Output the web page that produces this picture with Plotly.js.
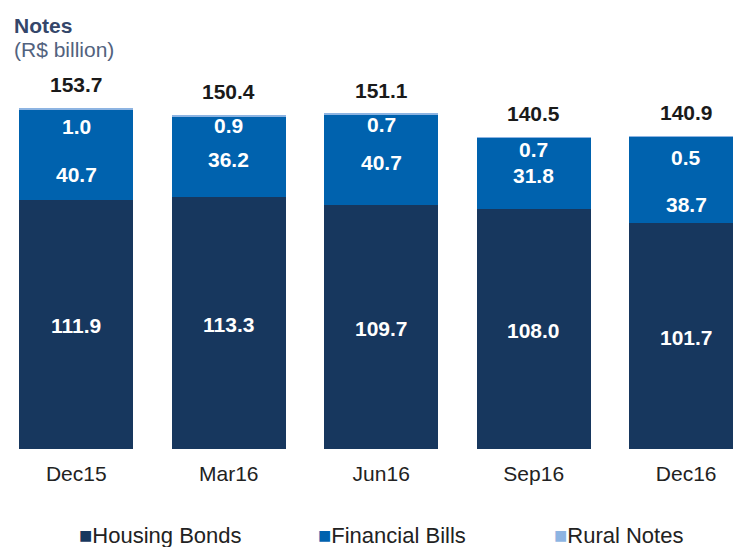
<!DOCTYPE html>
<html>
<head>
<meta charset="utf-8">
<script src="https://cdn.plot.ly/plotly-3.0.1.min.js"></script>
<style>
html,body{margin:0;padding:0;background:#fff;}
#chart{width:733px;height:547px;}
</style>
</head>
<body>
<div id="chart"></div>
<script>
// ---- data ----
var categories = ["Dec15", "Mar16", "Jun16", "Sep16", "Dec16"];
var housingBonds = [111.9, 113.3, 109.7, 108.0, 101.7];
var financialBills = [40.7, 36.2, 40.7, 31.8, 38.7];
var ruralNotes = [1.0, 0.9, 0.7, 0.7, 0.5];
var totals = [153.7, 150.4, 151.1, 140.5, 140.9];
var seriesNames = ["Housing Bonds", "Financial Bills", "Rural Notes"];

// ---- style ----
var colors = ["#17375e", "#0062ae", "#8db4e2"];
var FONT = "Liberation Sans, Arial, sans-serif";
var finLabelShift = [-19, -2.5, -2.5, -2, -24.5];   // px label offsets
var rurLabelShift = [-18.7, -10.2, -10.9, -12.8, -22];
var W = 733, H = 547, mT = 60, mB = 98;
var plotH = H - mT - mB;
var yMax = 175.1;

function bar(vals, i) {
  return {
    type: "bar", x: categories, y: vals, name: seriesNames[i],
    marker: {color: colors[i]},
    showlegend: false, hoverinfo: "skip"
  };
}
var data = [bar(housingBonds, 0), bar(financialBills, 1), bar(ruralNotes, 2)];

function fmt(v) { return "<b>" + v.toFixed(1) + "</b>"; }
var ann = [];
for (var i = 0; i < categories.length; i++) {
  var baseVal = housingBonds[i];
  var stackTop = housingBonds[i] + financialBills[i] + ruralNotes[i];
  ann.push({x: categories[i], y: baseVal / 2, text: fmt(housingBonds[i]), showarrow: false,
    font: {family: FONT, size: 21, color: "#ffffff"}, yanchor: "middle", yshift: -1});
  ann.push({x: categories[i], y: baseVal + financialBills[i] / 2, text: fmt(financialBills[i]), showarrow: false,
    font: {family: FONT, size: 21, color: "#ffffff"}, yanchor: "middle", yshift: finLabelShift[i]});
  ann.push({x: categories[i], y: stackTop, text: fmt(ruralNotes[i]), showarrow: false,
    font: {family: FONT, size: 21, color: "#ffffff"}, yanchor: "middle", yshift: rurLabelShift[i]});
  ann.push({x: categories[i], y: stackTop, text: fmt(totals[i]), showarrow: false,
    font: {family: FONT, size: 21, color: "#1a1a1a"}, yanchor: "middle", yshift: 23});
}
function py(pxFromTop) { return (H - mB - pxFromTop) / plotH; }
// titles
ann.push({xref: "paper", yref: "paper", x: 12 / W, y: py(25), xanchor: "left", yanchor: "middle",
  text: "<b>Notes</b>", showarrow: false, font: {family: FONT, size: 21, color: "#34466a"}});
ann.push({xref: "paper", yref: "paper", x: 12 / W, y: py(50), xanchor: "left", yanchor: "middle",
  text: "(R$ billion)", showarrow: false, font: {family: FONT, size: 21, color: "#52627e"}});
// legend
var legX = [77, 316, 552];
for (var k = 0; k < 3; k++) {
  ann.push({xref: "paper", yref: "paper", x: legX[k] / W, y: py(535), xanchor: "left", yanchor: "middle",
    text: '<span style="color:' + colors[k] + '">■</span>' + seriesNames[k],
    showarrow: false, font: {family: FONT, size: 22, color: "#222222"}});
}

var layout = {
  width: W, height: H,
  margin: {l: 0, r: 0, t: mT, b: mB, pad: 0},
  paper_bgcolor: "#ffffff", plot_bgcolor: "#ffffff",
  barmode: "stack", bargap: 0.252,
  showlegend: false,
  xaxis: {type: "category", range: [-0.5, 4.307], showgrid: false, zeroline: false, showline: false,
    ticks: "", ticklabelstandoff: 10, tickfont: {family: FONT, size: 21, color: "#222222"}, fixedrange: true},
  yaxis: {range: [0, yMax], visible: false, showgrid: false, zeroline: false, fixedrange: true},
  annotations: ann
};
Plotly.newPlot("chart", data, layout, {displayModeBar: false, staticPlot: true});
</script>
</body>
</html>
